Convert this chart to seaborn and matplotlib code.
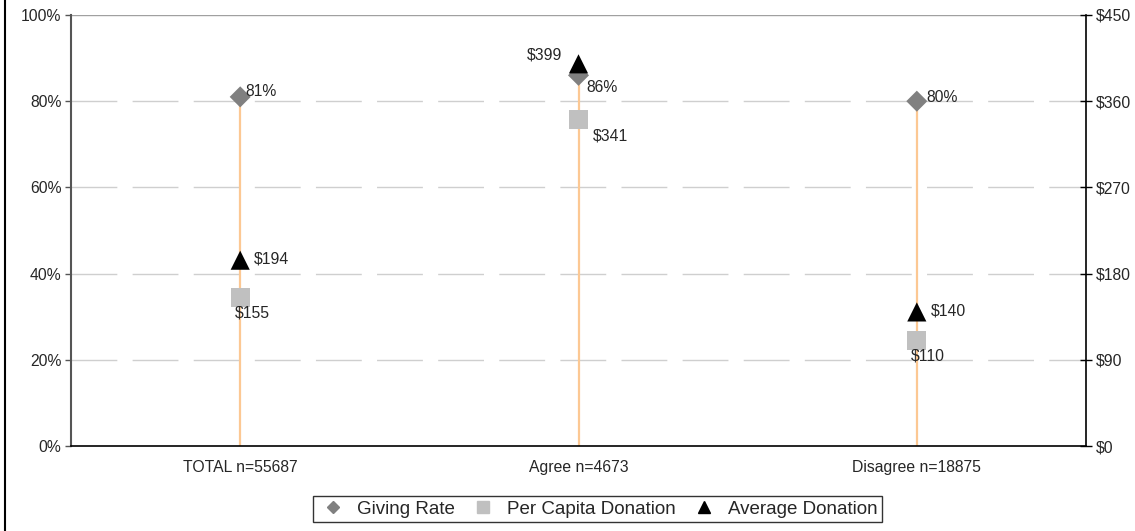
import matplotlib
matplotlib.use("Agg")
import matplotlib.pyplot as plt
from matplotlib.lines import Line2D
import seaborn as sns
import pandas as pd
import numpy as np

categories = ["TOTAL n=55687", "Agree n=4673", "Disagree n=18875"]
giving_rate = [81, 86, 80]          # percent, left axis
per_capita = [155, 341, 110]        # dollars, right axis
average_donation = [194, 399, 140]  # dollars, right axis
left_ticks = [0, 20, 40, 60, 80, 100]
right_ticks = [0, 90, 180, 270, 360, 450]

sns.set_theme(style="white")
plt.rcParams["font.family"] = ["Liberation Sans", "DejaVu Sans"]

df = pd.DataFrame({
    "pos": np.arange(len(categories)),
    "category": categories,
    "giving": giving_rate,
    "per_capita": per_capita,
    "average": average_donation,
})

fig = plt.figure(figsize=(11.35, 5.31), dpi=100)
ax = fig.add_axes([0.0626, 0.16, 0.8942, 0.8118])
ax2 = ax.twinx()

ax.set_xlim(-0.5, len(categories) - 0.5)
ax.set_ylim(0, 100)
ax2.set_ylim(0, 450)

# dashed horizontal gridlines
for v in left_ticks[1:-1]:
    ax.axhline(v, color="#cfcfcf", lw=1.0, dashes=(33, 11), zorder=0)
ax.axhline(100, color="#a0a0a0", lw=1.0, zorder=0)

# drop lines from zero up to the highest marker of each category
scale = 100 / 450
tops = [max(g, a * scale, p * scale) for g, a, p in zip(giving_rate, average_donation, per_capita)]
ax.vlines(df["pos"], 0, tops, color="#fcc893", lw=1.6, zorder=1)

sns.scatterplot(data=df, x="pos", y="giving", ax=ax, marker="D", s=115,
                color="#808080", edgecolor="none", zorder=3, legend=False)
sns.scatterplot(data=df, x="pos", y="per_capita", ax=ax2, marker="s", s=190,
                color="#c0c0c0", edgecolor="none", zorder=3, legend=False)
sns.scatterplot(data=df, x="pos", y="average", ax=ax2, marker="^", s=190,
                color="black", edgecolor="none", zorder=4, legend=False)
ax2.set_zorder(ax.get_zorder() + 1)
ax2.patch.set_visible(False)
ax.set_xlim(-0.5, len(categories) - 0.5)

fs = 11.3
# value labels
giving_off = [(4, 4), (6, -9), (7, 3)]
for x, v, off in zip(df["pos"], giving_rate, giving_off):
    ax.annotate(f"{v}%", (x, v), xytext=off, textcoords="offset points",
                fontsize=fs, ha="left", va="center")
pc_off = [(-4, -11), (10, -12), (-4, -11)]
for x, v, off in zip(df["pos"], per_capita, pc_off):
    ax2.annotate(f"${v}", (x, v), xytext=off, textcoords="offset points",
                 fontsize=fs, ha="left", va="center")
avg_off = [(10, 1), (-12, 6), (10, 1)]
avg_ha = ["left", "right", "left"]
for x, v, off, ha in zip(df["pos"], average_donation, avg_off, avg_ha):
    ax2.annotate(f"${v}", (x, v), xytext=off, textcoords="offset points",
                 fontsize=fs, ha=ha, va="center")

# axes styling
ax.set_yticks(left_ticks)
ax.set_yticklabels([f"{t}%" for t in left_ticks], fontsize=fs)
ax2.set_yticks(right_ticks)
ax2.set_yticklabels([f"${t}" for t in right_ticks], fontsize=fs)
ax.set_xticks([0.5, 1.5])
ax.set_xticklabels([])
ax.set_xticks(df["pos"], minor=True)
ax.set_xticklabels(categories, minor=True, fontsize=fs)
ax.tick_params(axis="x", which="major", direction="out", length=4, width=1, color="black")
ax.tick_params(axis="x", which="minor", length=0, pad=10)
ax.tick_params(axis="y", direction="out", length=4, width=1, color="#555555", pad=3, left=True)
ax2.tick_params(axis="y", direction="inout", length=8, width=1, color="black", pad=3, right=True)
ax.set_xlabel("")
ax.set_ylabel("")
ax2.set_ylabel("")

for a in (ax, ax2):
    for s in a.spines.values():
        s.set_visible(False)
ax.spines["left"].set_visible(True)
ax.spines["left"].set_color("#555555")
ax.spines["left"].set_linewidth(1.5)
ax.spines["bottom"].set_visible(True)
ax.spines["bottom"].set_color("black")
ax.spines["bottom"].set_linewidth(1.2)
ax2.spines["right"].set_visible(True)
ax2.spines["right"].set_color("black")
ax2.spines["right"].set_linewidth(1.2)

# legend
handles = [
    Line2D([], [], marker="D", color="#808080", ls="none", markersize=6),
    Line2D([], [], marker="s", color="#c0c0c0", ls="none", markersize=8.5),
    Line2D([], [], marker="^", color="black", ls="none", markersize=8.5),
]
leg = fig.legend(handles, ["Giving Rate", "Per Capita Donation", "Average Donation"],
                 loc="center", bbox_to_anchor=(0.5264, 0.041), ncol=3, fontsize=13.5,
                 frameon=True, fancybox=False, handletextpad=0.43, columnspacing=0.64,
                 borderpad=0.25, handlelength=1.7, borderaxespad=0)
leg.get_frame().set_edgecolor("black")
leg.get_frame().set_linewidth(1.0)

# chart frame edge on the left
fig.add_artist(Line2D([0.0048, 0.0048], [0, 1], transform=fig.transFigure,
                      color="black", lw=1.5))

fig.savefig("out.png", dpi=100)
